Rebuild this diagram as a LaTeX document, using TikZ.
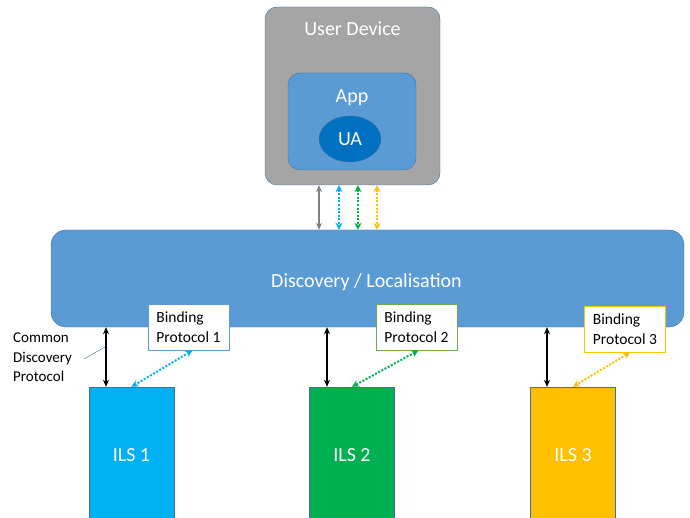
\documentclass[tikz,border=0pt]{standalone}
\usepackage{fontspec}
\setmainfont{Carlito}
\usetikzlibrary{arrows.meta,positioning,shapes.geometric}
\definecolor{boxblue}{HTML}{5B9BD5}
\definecolor{edgeblue}{HTML}{41719C}
\definecolor{uablue}{HTML}{0070C0}
\definecolor{devgray}{HTML}{A5A5A5}
\definecolor{ilscyan}{HTML}{00B0F0}
\definecolor{ilsgreen}{HTML}{00B050}
\definecolor{ilsorange}{HTML}{FFC000}
\definecolor{bindgreen}{HTML}{70AD47}
\tikzset{
  bigbox/.style={draw=edgeblue, rounded corners=12pt, text=white, inner sep=0pt},
  bigfont/.style={font=\fontsize{20}{24}\selectfont},
  ilsbox/.style={draw=edgeblue, text=white, minimum width=85pt, minimum height=136pt, inner sep=0pt, bigfont},
  bindbox/.style={draw, fill=white, thick, minimum width=81pt, minimum height=46pt, align=left, inner sep=0pt, font=\fontsize{15.5}{19.5}\selectfont},
  cdp/.style={line width=2pt, {Stealth[length=7pt,width=6pt]}-{Stealth[length=7pt,width=6pt]}},
  bp/.style={line width=2pt, dash pattern=on 2pt off 1.6pt, {Stealth[length=7pt,width=7pt]}-{Stealth[length=7pt,width=7pt]}}
}
\begin{document}
\begin{tikzpicture}[x=1pt,y=-1pt]
				\useasboundingbox (0,0) rectangle (690,518);
				% user device
				\node[bigbox, fill=devgray, minimum width=175pt, minimum height=178pt] (device) at (352.5,96) {};
				\node[text=white, bigfont] (devlabel) at (352.5,29) {User Device};
				\node[bigbox, fill=boxblue, minimum width=128pt, minimum height=97pt] (app) at (352,121.5) {};
				\node[text=white, bigfont] (applabel) at (352,97.5) {App};
				\node[draw=edgeblue, fill=uablue, ellipse, minimum width=62pt, minimum height=46pt, inner sep=0pt, text=white, bigfont] (ua) at (350,139) {UA};
				% discovery layer
				\node[bigbox, rounded corners=15pt, fill=boxblue, minimum width=633pt, minimum height=97pt] (disc) at (367.5,278.5) {};
				\node[text=white, bigfont] (disclabel) at (366.5,282.5) {Discovery / Localisation};
				% ILS boxes
				\node[ilsbox, fill=ilscyan] (ils1) at (131.5,455) {ILS 1};
				\node[ilsbox, fill=ilsgreen] (ils2) at (352,455) {ILS 2};
				\node[ilsbox, fill=ilsorange] (ils3) at (573,455) {ILS 3};
				% binding protocols
				\node[bindbox, draw=boxblue] (bp1) at (188.5,327) {Binding\\Protocol 1};
				\node[bindbox, draw=bindgreen] (bp2) at (416.5,327) {Binding\\Protocol 2};
				\node[bindbox, draw=ilsorange] (bp3) at (625,329) {Binding\\Protocol 3};
				\node[align=left, anchor=north west, inner sep=0pt, font=\fontsize{15}{19.5}\selectfont] (cdplabel) at (13,333) {Common\\Discovery\\Protocol};
				% device <-> discovery
				\draw[line width=2pt, gray, {Stealth[length=7pt,width=6pt]}-{Stealth[length=7pt,width=6pt]}] (device.south -| 319,0) -- (disc.north -| 319,0);
				\draw[bp, ilscyan] (device.south -| 339,0) -- (disc.north -| 339,0);
				\draw[bp, ilsgreen] (device.south -| 358,0) -- (disc.north -| 358,0);
				\draw[bp, ilsorange] (device.south -| 377,0) -- (disc.north -| 377,0);
				% discovery <-> ILS
				\draw[cdp] (disc.south -| 106,0) -- (ils1.north -| 106,0);
				\draw[cdp] (disc.south -| 327,0) -- (ils2.north -| 327,0);
				\draw[cdp] (disc.south -| 547,0) -- (ils3.north -| 547,0);
				\coordinate (b1) at ([xshift=4pt]bp1.south);
				\coordinate (b2) at ([xshift=2pt]bp2.south);
				\coordinate (b3) at ([xshift=5pt]bp3.south);
				\draw[bp, ilscyan] (b1) -- (ils1.north);
				\draw[bp, ilsgreen] (b2) -- (ils2.north);
				\draw[bp, ilsorange] (b3) -- (ils3.north);
				\coordinate (cdpend) at (105,347);
				\draw[edgeblue] (84,359) -- (cdpend);
				\end{tikzpicture}
\end{document}
